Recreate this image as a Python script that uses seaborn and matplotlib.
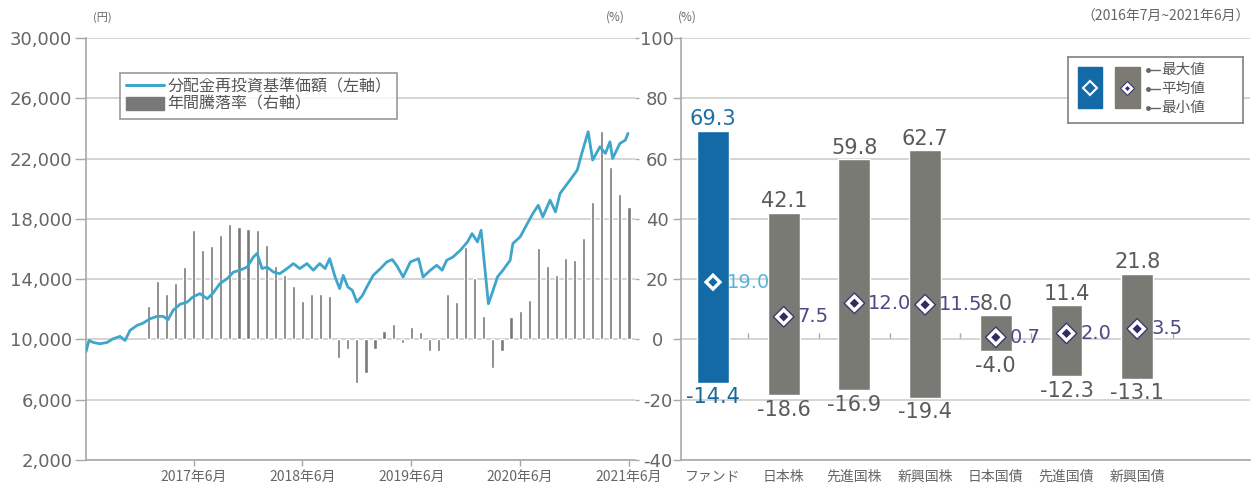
import numpy as np
import pandas as pd
import matplotlib
matplotlib.use("Agg")
import matplotlib.pyplot as plt
from matplotlib.lines import Line2D
from matplotlib.patches import Patch, Rectangle
import seaborn as sns

sns.set_style("white")
plt.rcParams['font.family'] = ['Noto Sans CJK JP', 'DejaVu Sans']

# --- left chart data (x = months counted from 2016年6月) ---
nav_month = [0.14, 0.47, 0.92, 1.69, 2.46, 3.12, 3.89, 4.44, 4.99, 5.77,
             6.43, 7.2, 7.97, 8.63, 9.18, 9.74, 10.5, 11.3, 11.9, 12.7,
             13.5, 14.1, 14.9, 15.7, 16.4, 17.1, 17.9, 18.6, 19.0, 19.55,
             20.1, 20.8, 21.5, 22.3, 23.0, 23.7, 24.5, 25.2, 25.9, 26.5,
             27.0, 27.6, 28.1, 28.5, 29.0, 29.5, 30.0, 30.6, 31.1, 31.8,
             32.6, 33.3, 33.9, 34.4, 35.1, 35.9, 36.8, 37.3, 38.1, 38.8,
             39.4, 39.9, 40.6, 41.4, 42.2, 42.7, 43.3, 43.7, 44.1, 44.5,
             44.9, 45.5, 46.1, 46.9, 47.2, 48.0, 48.8, 49.4, 50.0, 50.5,
             51.3, 51.9, 52.4, 53.5, 54.3, 54.8, 55.5, 56.0, 56.8, 57.4,
             57.9, 58.2, 59.0, 59.6, 59.9]
nav_value = [9200, 9930, 9800, 9710, 9800, 10040, 10200, 9930, 10600, 10930,
             11080, 11370, 11530, 11530, 11310, 11930, 12330, 12480, 12810, 13040,
             12700, 13040, 13700, 14030, 14470, 14590, 14800, 15470, 15700, 14700,
             14800, 14470, 14360, 14700, 15030, 14700, 15030, 14590, 15030, 14700,
             15360, 14140, 13370, 14250, 13480, 13260, 12480, 12900, 13480, 14250,
             14700, 15140, 15300, 14900, 14140, 15140, 15360, 14140, 14590, 14920,
             14590, 15250, 15470, 15910, 16470, 17020, 16470, 17240, 14800, 12370,
             13040, 14140, 14590, 15250, 16360, 16800, 17690, 18350, 18900, 18130,
             19240, 18460, 19680, 20570, 21230, 22340, 23780, 21900, 22780, 22340,
             23110, 22010, 23000, 23220, 23670]

ret_month = list(range(7, 61))  # 2017年1月 ~ 2021年6月
ret_value = [11.2, 19.3, 15.2, 18.8, 23.9, 36.4, 29.8, 31.0, 34.6, 38.3,
             37.2, 36.7, 36.3, 31.4, 24.3, 21.5, 17.8, 12.7, 15.2, 15.2,
             14.4, -6.2, -3.3, -14.4, -11.2, -3.1, 2.7, 5.2, -1.1, 4.1,
             2.4, -3.9, -3.9, 15.0, 12.4, 30.7, 20.4, 7.8, -9.4, -3.7,
             7.4, 9.3, 13.2, 30.3, 24.4, 21.5, 27.1, 26.5, 33.8, 45.5,
             69.3, 57.2, 48.2, 44.0]

date_ticks = [12, 24, 36, 48, 60]
date_labels = ['2017年6月', '2018年6月', '2019年6月', '2020年6月', '2021年6月']
yen_ticks = [2000, 6000, 10000, 14000, 18000, 22000, 26000, 30000]
yen_labels = ['2,000', '6,000', '10,000', '14,000', '18,000', '22,000', '26,000', '30,000']
pct_ticks = [-40, -20, 0, 20, 40, 60, 80, 100]

# --- right chart data ---
assets = ['ファンド', '日本株', '先進国株', '新興国株', '日本国債', '先進国債', '新興国債']
max_val = [69.3, 42.1, 59.8, 62.7, 8.0, 11.4, 21.8]
avg_val = [19.0, 7.5, 12.0, 11.5, 0.7, 2.0, 3.5]
min_val = [-14.4, -18.6, -16.9, -19.4, -4.0, -12.3, -13.1]

# colours
LINE = '#3ea5cb'
BAR = '#787878'
BLUE = '#136aa6'
GRAY = '#7b7b74'
GRID = '#c9c9c9'
SPINE = '#a8a8a8'
TXT = '#666666'
NUM = 'DejaVu Sans'

fig = plt.figure(figsize=(12.56, 4.88), dpi=100)

# ================= left chart =================
ax_bar = fig.add_axes([0.0685, 0.0574, 0.4371, 0.8648])
sns.barplot(x=ret_month, y=ret_value, native_scale=True, color=BAR,
            width=0.35, errorbar=None, ax=ax_bar, zorder=2)
ax_bar.set(xlabel='', ylabel='')
ax_bar.set_ylim(-40, 100)
ax_bar.set_xlim(0.14, 60.67)
ax_bar.set_yticks(pct_ticks)
ax_bar.set_yticklabels([str(t) for t in pct_ticks], ha='center', family=NUM)
ax_bar.set_axisbelow(True)
ax_bar.grid(axis='y', color=GRID, lw=1.1)
ax_bar.grid(axis='x', visible=False)
ax_bar.set_xticks(date_ticks)
ax_bar.set_xticklabels(date_labels)
ax_bar.tick_params(axis='x', colors=SPINE, labelcolor=TXT, labelsize=10,
                   length=4, width=1, direction='out', pad=3.5, bottom=True)
for s in ['top', 'right', 'left']:
    ax_bar.spines[s].set_visible(False)
ax_bar.spines['bottom'].set_color(SPINE)
ax_bar.spines['bottom'].set_linewidth(1.2)

ax_line = ax_bar.twinx()
sns.lineplot(x=nav_month, y=nav_value, color=LINE, lw=2.0, ax=ax_line, zorder=3)
ax_line.set(xlabel='', ylabel='')
ax_line.set_ylim(2000, 30000)
ax_line.set_yticks(yen_ticks)
ax_line.set_yticklabels(yen_labels, family=NUM)
ax_line.yaxis.tick_left()
ax_bar.yaxis.tick_right()
ax_line.tick_params(axis='y', colors=SPINE, labelcolor=TXT, labelsize=13,
                    length=8, width=1, pad=2)
ax_bar.tick_params(axis='y', colors=SPINE, labelcolor=TXT, labelsize=13,
                   length=3, width=1, pad=13)
for s in ['top', 'right', 'bottom']:
    ax_line.spines[s].set_visible(False)
ax_line.spines['left'].set_color(SPINE)
ax_line.spines['left'].set_linewidth(1.2)

handles = [Line2D([0], [0], color=LINE, lw=2.2),
           Patch(facecolor=BAR, edgecolor=BAR)]
leg = ax_line.legend(handles, ['分配金再投資基準価額（左軸）', '年間騰落率（右軸）'],
                     loc='upper left', bbox_to_anchor=(0.062, 0.918),
                     fontsize=11.5, frameon=True, fancybox=False,
                     handlelength=2.4, handleheight=0.9, handletextpad=0.2,
                     borderpad=0.35, labelspacing=0.05, borderaxespad=0)
leg.get_frame().set_edgecolor('#8a8a8a')
leg.get_frame().set_linewidth(1.3)
for t in leg.get_texts():
    t.set_color('#555555')

fig.text(0.074, 0.958, '(円)', fontsize=8, color=TXT)
fig.text(0.482, 0.958, '(%)', fontsize=8.5, color=TXT)

# ================= right chart =================
ax_r = fig.add_axes([0.5422, 0.0574, 0.4530, 0.8648])
span = [hi - lo for hi, lo in zip(max_val, min_val)]
sns.barplot(x=assets, y=span, bottom=min_val, color=GRAY, width=0.45,
            errorbar=None, ax=ax_r, zorder=2)
ax_r.patches[0].set_facecolor(BLUE)
ax_r.set(xlabel='', ylabel='')
ax_r.set_ylim(-40, 100)
ax_r.set_xlim(-0.4526, 7.595)
ax_r.set_yticks(pct_ticks)
ax_r.set_yticklabels([])
ax_r.set_axisbelow(True)
ax_r.grid(axis='y', color=GRID, lw=1.1)
ax_r.grid(axis='x', visible=False)
ax_r.tick_params(axis='y', colors=SPINE, length=6, width=1, left=True)
ax_r.tick_params(axis='x', length=0, labelcolor=TXT, labelsize=10, pad=7)
for s in ['top', 'right']:
    ax_r.spines[s].set_visible(False)
for s in ['left', 'bottom']:
    ax_r.spines[s].set_color(SPINE)
    ax_r.spines[s].set_linewidth(1.2)

# small separators on the zero line
sec = ax_r.secondary_xaxis(40 / 140)
sec.set_xticks([i + 0.5 for i in range(len(assets))])
sec.set_xticklabels([])
sec.tick_params(direction='in', length=4, colors=SPINE, width=1)
sec.spines['bottom'].set_visible(False)

# averages
sns.scatterplot(x=assets, y=avg_val, marker='D', s=110, ax=ax_r, zorder=4,
                legend=False)
pts = ax_r.collections[-1]
pts.set_facecolor(['white'] * len(assets))
pts.set_edgecolor([BLUE] + ['#3b3a6e'] * (len(assets) - 1))
pts.set_linewidth(1.0)
sns.scatterplot(x=assets, y=avg_val, marker='D', s=22, ax=ax_r, zorder=5,
                legend=False, linewidth=0)
pts2 = ax_r.collections[-1]
pts2.set_facecolor([BLUE] + ['#2f2c63'] * (len(assets) - 1))

for i, name in enumerate(assets):
    hi_c = '#1d6fa3' if i == 0 else '#5a5a5a'
    lo_c = '#17669c' if i == 0 else '#5a5a5a'
    av_c = '#5ab4d8' if i == 0 else '#4b4a87'
    ax_r.annotate(f'{max_val[i]:.1f}', (i, max_val[i]), xytext=(0, 1),
                  textcoords='offset points', ha='center', va='bottom',
                  fontsize=15, color=hi_c, family=NUM)
    ax_r.annotate(f'{min_val[i]:.1f}', (i, min_val[i]), xytext=(0, -3),
                  textcoords='offset points', ha='center', va='top',
                  fontsize=15, color=lo_c, family=NUM)
    ax_r.annotate(f'{avg_val[i]:.1f}', (i, avg_val[i]), xytext=(10, 0),
                  textcoords='offset points', ha='left', va='center',
                  fontsize=14, color=av_c, family=NUM)

fig.text(0.540, 0.958, '(%)', fontsize=8.5, color=TXT)
fig.text(0.995, 0.958, '（2016年7月~2021年6月）', fontsize=10, color=TXT, ha='right')

# legend box for max/avg/min
lg = fig.add_axes([0.8503, 0.748, 0.1393, 0.135])
lg.set_xlim(0, 175)
lg.set_ylim(66, 0)
lg.set_xticks([])
lg.set_yticks([])
for s in lg.spines.values():
    s.set_color('#8a8a8a')
    s.set_linewidth(1.3)
lg.add_patch(Rectangle((10, 10), 24, 41, color=BLUE))
lg.add_patch(Rectangle((47, 10), 25, 41, color=GRAY))
lg.plot([22], [30.5], marker='D', ms=7, mfc=BLUE, mec='white', mew=1.5)
lg.plot([59.5], [30.5], marker='D', ms=7, mfc='white', mec='#3b3a6e', mew=0.8)
lg.plot([59.5], [30.5], marker='D', ms=2.5, mfc='#2f2c63', mew=0)
for yy, lab in zip([13, 32, 51], ['最大値', '平均値', '最小値']):
    lg.plot([80, 92], [yy, yy], color='#666666', lw=1)
    lg.plot([80], [yy], marker='o', ms=2.5, color='#666666')
    lg.text(93, yy, lab, fontsize=10.5, color='#555555', va='center')

fig.savefig('out.png', dpi=100)
